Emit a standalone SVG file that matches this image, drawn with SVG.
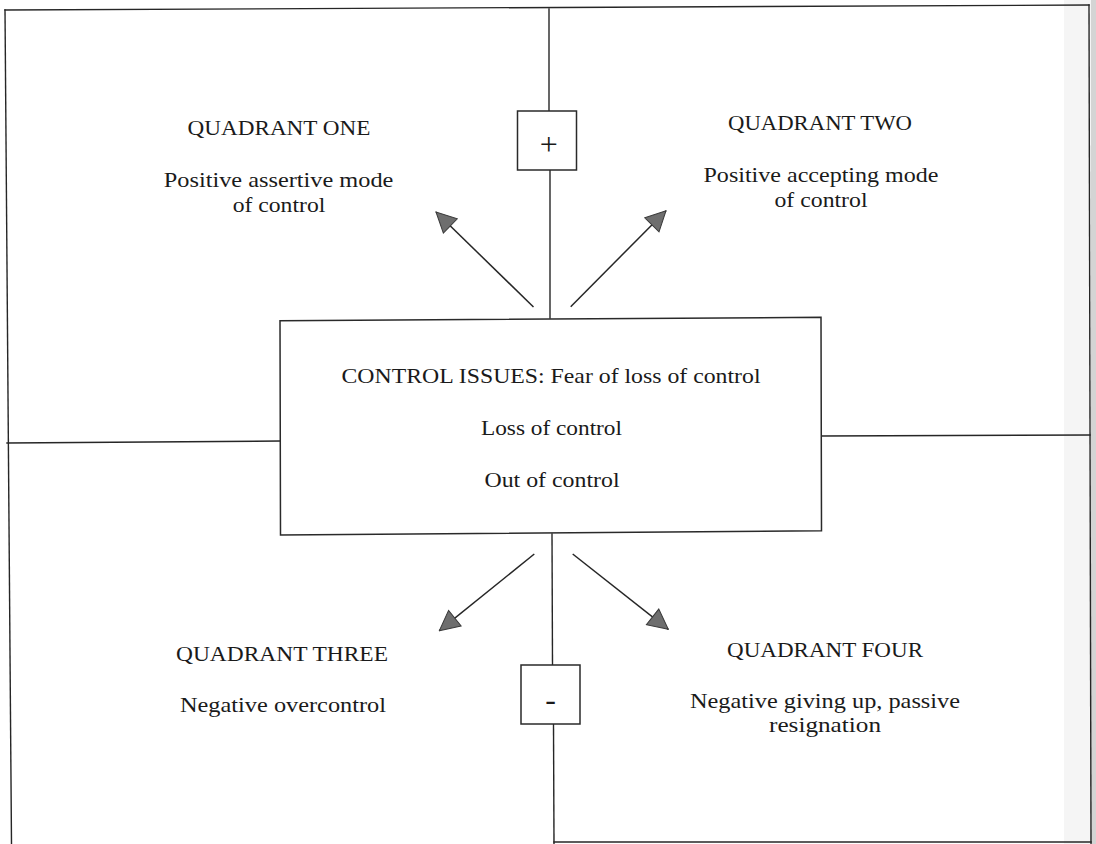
<svg xmlns="http://www.w3.org/2000/svg" width="1096" height="844" viewBox="0 0 1096 844">
<style>
.ln{fill:none;stroke:#262626;stroke-width:1.4;stroke-linecap:square}
.bx{fill:#ffffff;stroke:#2a2a2a;stroke-width:1.5}
.t{font-family:"Liberation Serif","Times New Roman",serif;font-size:22px;fill:#1a1a1a;text-anchor:middle}
.tc{font-family:"Liberation Serif","Times New Roman",serif;font-size:21.5px;fill:#1a1a1a;text-anchor:middle}
.sym{font-family:"Liberation Serif","Times New Roman",serif;font-size:32px;fill:#1a1a1a;text-anchor:middle}
.ar{fill:none;stroke:#262626;stroke-width:1.5}
</style>
<defs>
<marker id="head" markerUnits="userSpaceOnUse" markerWidth="22" markerHeight="22" viewBox="0 0 22 22" refX="21" refY="11" orient="auto">
<path d="M1,1 L21,11 L1,21 Z" fill="#6e6e6e" stroke="#3a3a3a" stroke-width="1"/>
</marker>
</defs>
<rect x="0" y="0" width="1096" height="844" fill="#ffffff"/>
<rect x="1064" y="0" width="27" height="844" fill="#f5f5f5"/>
<rect x="1091" y="0" width="5" height="844" fill="#d4d4d4"/>
<g id="frame">
<path class="ln" d="M5,10 L1089,5"/>
<path class="ln" d="M5,10 L11.5,844"/>
<path class="ln" d="M1089,5 L1091,844"/>
<path class="ln" d="M554,842 L1091,842"/>
</g>
<g id="axes">
<path class="ln" d="M549,9 L549,111"/>
<path class="ln" d="M550,170 L550,318"/>
<path class="ln" d="M552,534 L552.5,665"/>
<path class="ln" d="M553.5,724 L554,844"/>
<path class="ln" d="M7,443 L280,441"/>
<path class="ln" d="M821,436 L1090,435"/>
</g>
<g id="connectors">
<path class="ar" d="M533.5,307 L436,212" marker-end="url(#head)"/>
<path class="ar" d="M570.7,306.7 L666,210.7" marker-end="url(#head)"/>
<path class="ar" d="M534.3,554 L439.3,630.7" marker-end="url(#head)"/>
<path class="ar" d="M572.7,554 L668.3,629.3" marker-end="url(#head)"/>
</g>
<g id="plus">
<rect class="bx" x="517.5" y="111" width="59" height="59"/>
<text class="sym" x="548.7" y="154.5">+</text>
</g>
<g id="minus">
<rect class="bx" x="521" y="665" width="59" height="59"/>
<text class="sym" x="550.5" y="709.5">-</text>
</g>
<g id="center">
<polygon class="bx" points="280,320.7 821,317.3 821.5,530.7 280.5,535"/>
<text class="tc" x="551" y="383" textLength="419" lengthAdjust="spacingAndGlyphs">CONTROL ISSUES: Fear of loss of control</text>
<text class="tc" x="551.5" y="435" textLength="141" lengthAdjust="spacingAndGlyphs">Loss of control</text>
<text class="tc" x="552" y="486.5" textLength="135" lengthAdjust="spacingAndGlyphs">Out of control</text>
</g>
<g id="quadrant-one">
<text class="t" x="279" y="135" textLength="183" lengthAdjust="spacingAndGlyphs">QUADRANT ONE</text>
<text class="t" x="278.6" y="186.5" textLength="229.6" lengthAdjust="spacingAndGlyphs">Positive assertive mode</text>
<text class="t" x="279" y="212.3" textLength="92.6" lengthAdjust="spacingAndGlyphs">of control</text>
</g>
<g id="quadrant-two">
<text class="t" x="820" y="130" textLength="184" lengthAdjust="spacingAndGlyphs">QUADRANT TWO</text>
<text class="t" x="821" y="181.5" textLength="235" lengthAdjust="spacingAndGlyphs">Positive accepting mode</text>
<text class="t" x="821" y="207.3" textLength="93" lengthAdjust="spacingAndGlyphs">of control</text>
</g>
<g id="quadrant-three">
<text class="t" x="282" y="660.5" textLength="212" lengthAdjust="spacingAndGlyphs">QUADRANT THREE</text>
<text class="t" x="283" y="711.5" textLength="206" lengthAdjust="spacingAndGlyphs">Negative overcontrol</text>
</g>
<g id="quadrant-four">
<text class="t" x="825" y="657.3" textLength="196" lengthAdjust="spacingAndGlyphs">QUADRANT FOUR</text>
<text class="t" x="825" y="708.3" textLength="270" lengthAdjust="spacingAndGlyphs">Negative giving up, passive</text>
<text class="t" x="825" y="732" textLength="112" lengthAdjust="spacingAndGlyphs">resignation</text>
</g>
</svg>
